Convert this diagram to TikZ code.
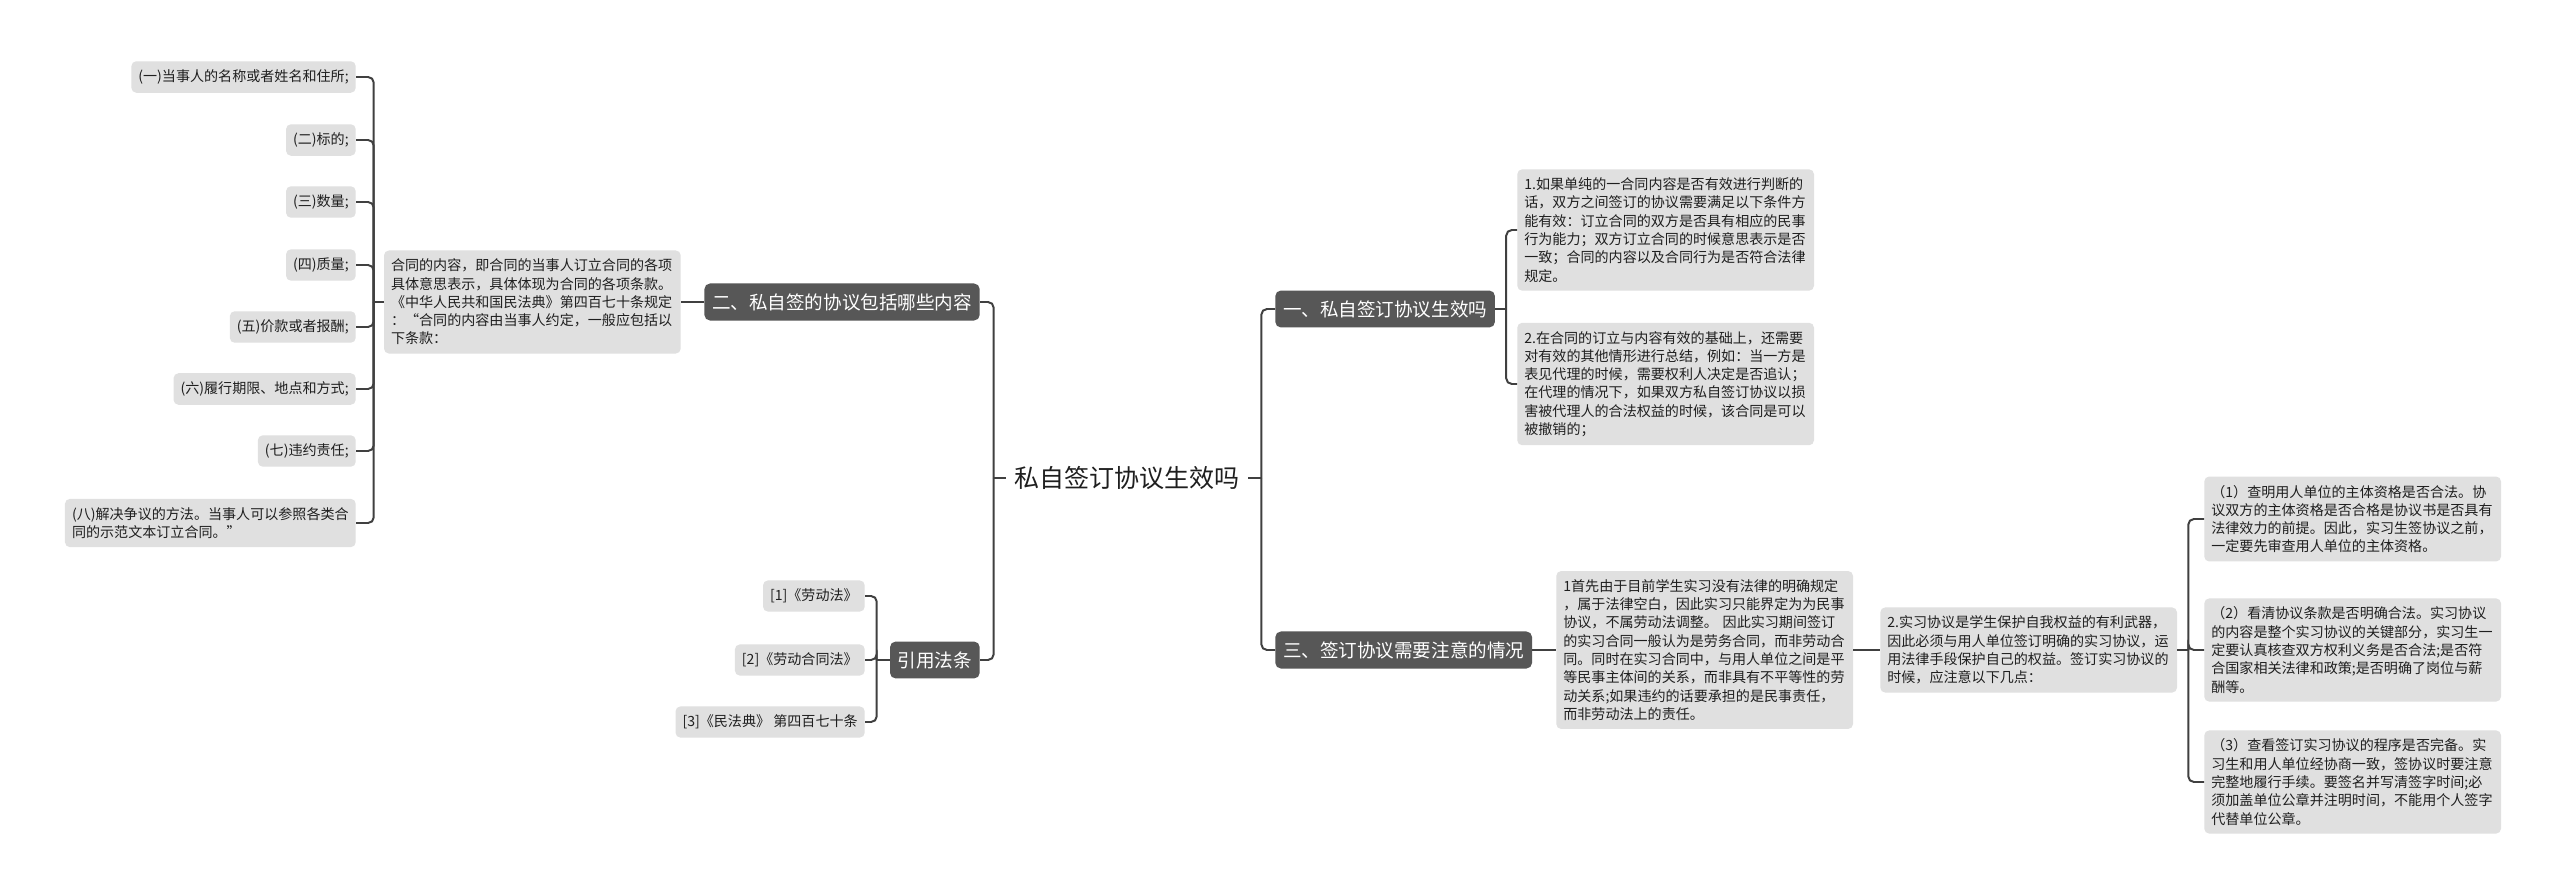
\documentclass[tikz,border=0pt]{standalone}
\usepackage{fontspec}
\setmainfont{Noto Sans CJK SC}
\usepackage{tikz}
\usepackage{xcolor}
\definecolor{mapLine}{HTML}{404040}
\definecolor{mapBranch}{HTML}{575757}
\definecolor{mapLeaf}{HTML}{E0E0E0}
\definecolor{mapText}{HTML}{1F1F1F}

\begin{document}
\begin{tikzpicture}[x=0.025cm, y=-0.025cm,
  branch/.style={fill=mapBranch, text=white, rounded corners=4pt, inner xsep=5.5pt, inner ysep=7pt, font=\fontsize{13.2}{16}\selectfont},
  leaf/.style={fill=mapLeaf, text=mapText, rounded corners=3.5pt, inner xsep=5pt, inner ysep=6pt, align=left, font=\fontsize{10}{13}\selectfont},
  note/.style={leaf, text width=201pt},
  link/.style={mapLine, line width=1.4pt, rounded corners=4pt}]
  \filldraw[fill=white, draw=none] (0,0) rectangle (2560,895);
  \node[text=mapText, inner xsep=6pt, font=\fontsize{17.8}{20}\selectfont] (R) at (1127,478) {私自签订协议生效吗};
  \node[branch, anchor=west] (A) at (1275,309) {一、私自签订协议生效吗};
  \node[branch, anchor=east] (B) at (980,302) {二、私自签的协议包括哪些内容};
  \node[branch, anchor=west] (C) at (1275,650) {三、签订协议需要注意的情况};
  \node[branch, anchor=east] (D) at (980,660) {引用法条};
  \node[note, anchor=west] (A1) at (1517,230) {1.如果单纯的一合同内容是否有效进行判断的\\话，双方之间签订的协议需要满足以下条件方\\能有效：订立合同的双方是否具有相应的民事\\行为能力；双方订立合同的时候意思表示是否\\一致；合同的内容以及合同行为是否符合法律\\规定。};
  \node[note, anchor=west] (A2) at (1517,384) {2.在合同的订立与内容有效的基础上，还需要\\对有效的其他情形进行总结，例如：当一方是\\表见代理的时候，需要权利人决定是否追认；\\在代理的情况下，如果双方私自签订协议以损\\害被代理人的合法权益的时候，该合同是可以\\被撤销的；};
  \node[note, anchor=east] (B0) at (681,302) {合同的内容，即合同的当事人订立合同的各项\\具体意思表示，具体体现为合同的各项条款。\\《中华人民共和国民法典》第四百七十条规定\\：“合同的内容由当事人约定，一般应包括以\\下条款：};
  \node[leaf, anchor=east] (B1) at (356,77) {(一)当事人的名称或者姓名和住所;};
  \node[leaf, anchor=east] (B2) at (356,140) {(二)标的;};
  \node[leaf, anchor=east] (B3) at (356,202) {(三)数量;};
  \node[leaf, anchor=east] (B4) at (356,265) {(四)质量;};
  \node[leaf, anchor=east] (B5) at (356,327) {(五)价款或者报酬;};
  \node[leaf, anchor=east] (B6) at (356,389) {(六)履行期限、地点和方式;};
  \node[leaf, anchor=east] (B7) at (356,451) {(七)违约责任;};
  \node[leaf, anchor=east] (B8) at (356,523) {(八)解决争议的方法。当事人可以参照各类合\\同的示范文本订立合同。”};
  \node[note, anchor=west] (C1) at (1556,650) {1首先由于目前学生实习没有法律的明确规定\\，属于法律空白，因此实习只能界定为为民事\\协议，不属劳动法调整。 因此实习期间签订\\的实习合同一般认为是劳务合同，而非劳动合\\同。同时在实习合同中，与用人单位之间是平\\等民事主体间的关系，而非具有不平等性的劳\\动关系;如果违约的话要承担的是民事责任，\\而非劳动法上的责任。};
  \node[note, anchor=west] (C2) at (1880,650) {2.实习协议是学生保护自我权益的有利武器，\\因此必须与用人单位签订明确的实习协议，运\\用法律手段保护自己的权益。签订实习协议的\\时候，应注意以下几点：};
  \node[note, anchor=west] (C21) at (2204,519) {（1）查明用人单位的主体资格是否合法。协\\议双方的主体资格是否合格是协议书是否具有\\法律效力的前提。因此，实习生签协议之前，\\一定要先审查用人单位的主体资格。};
  \node[note, anchor=west] (C22) at (2204,650) {（2）看清协议条款是否明确合法。实习协议\\的内容是整个实习协议的关键部分，实习生一\\定要认真核查双方权利义务是否合法;是否符\\合国家相关法律和政策;是否明确了岗位与薪\\酬等。};
  \node[note, anchor=west] (C23) at (2204,782) {（3）查看签订实习协议的程序是否完备。实\\习生和用人单位经协商一致，签协议时要注意\\完整地履行手续。要签名并写清签字时间;必\\须加盖单位公章并注明时间，不能用个人签字\\代替单位公章。};
  \node[leaf, anchor=east] (D1) at (865,596) {[1]《劳动法》};
  \node[leaf, anchor=east] (D2) at (865,660) {[2]《劳动合同法》};
  \node[leaf, anchor=east] (D3) at (865,722) {[3]《民法典》 第四百七十条};
  \path (R.west) ++(-12,0) coordinate (RL);
  \path (R.east) ++(13,0) coordinate (RR);
  \path (A.east) ++(11,0) coordinate (AR);
  \path (B0.west) ++(-10,0) coordinate (BL);
  \path (C2.east) ++(11,0) coordinate (CR);
  \path (D.west) ++(-13,0) coordinate (DL);
  \draw[link] (R.west) -- (RL);
  \draw[link] (RL) |- (B.east);
  \draw[link] (RL) |- (D.east);
  \draw[link] (R.east) -- (RR);
  \draw[link] (RR) |- (A.west);
  \draw[link] (RR) |- (C.west);
  \draw[link] (A.east) -- (AR);
  \draw[link] (AR) |- (A1.west);
  \draw[link] (AR) |- (A2.west);
  \draw[link] (B.west) -- (B0.east);
  \draw[link] (B0.west) -- (BL);
  \draw[link] (BL) |- (B1.east);
  \draw[link] (BL) |- (B2.east);
  \draw[link] (BL) |- (B3.east);
  \draw[link] (BL) |- (B4.east);
  \draw[link] (BL) |- (B5.east);
  \draw[link] (BL) |- (B6.east);
  \draw[link] (BL) |- (B7.east);
  \draw[link] (BL) |- (B8.east);
  \draw[link] (C.east) -- (C1.west);
  \draw[link] (C1.east) -- (C2.west);
  \draw[link] (C2.east) -- (CR);
  \draw[link] (CR) |- (C21.west);
  \draw[link] (CR) |- (C22.west);
  \draw[link] (CR) |- (C23.west);
  \draw[link] (D.west) -- (DL);
  \draw[link] (DL) |- (D1.east);
  \draw[link] (DL) |- (D2.east);
  \draw[link] (DL) |- (D3.east);
\end{tikzpicture}
\end{document}
